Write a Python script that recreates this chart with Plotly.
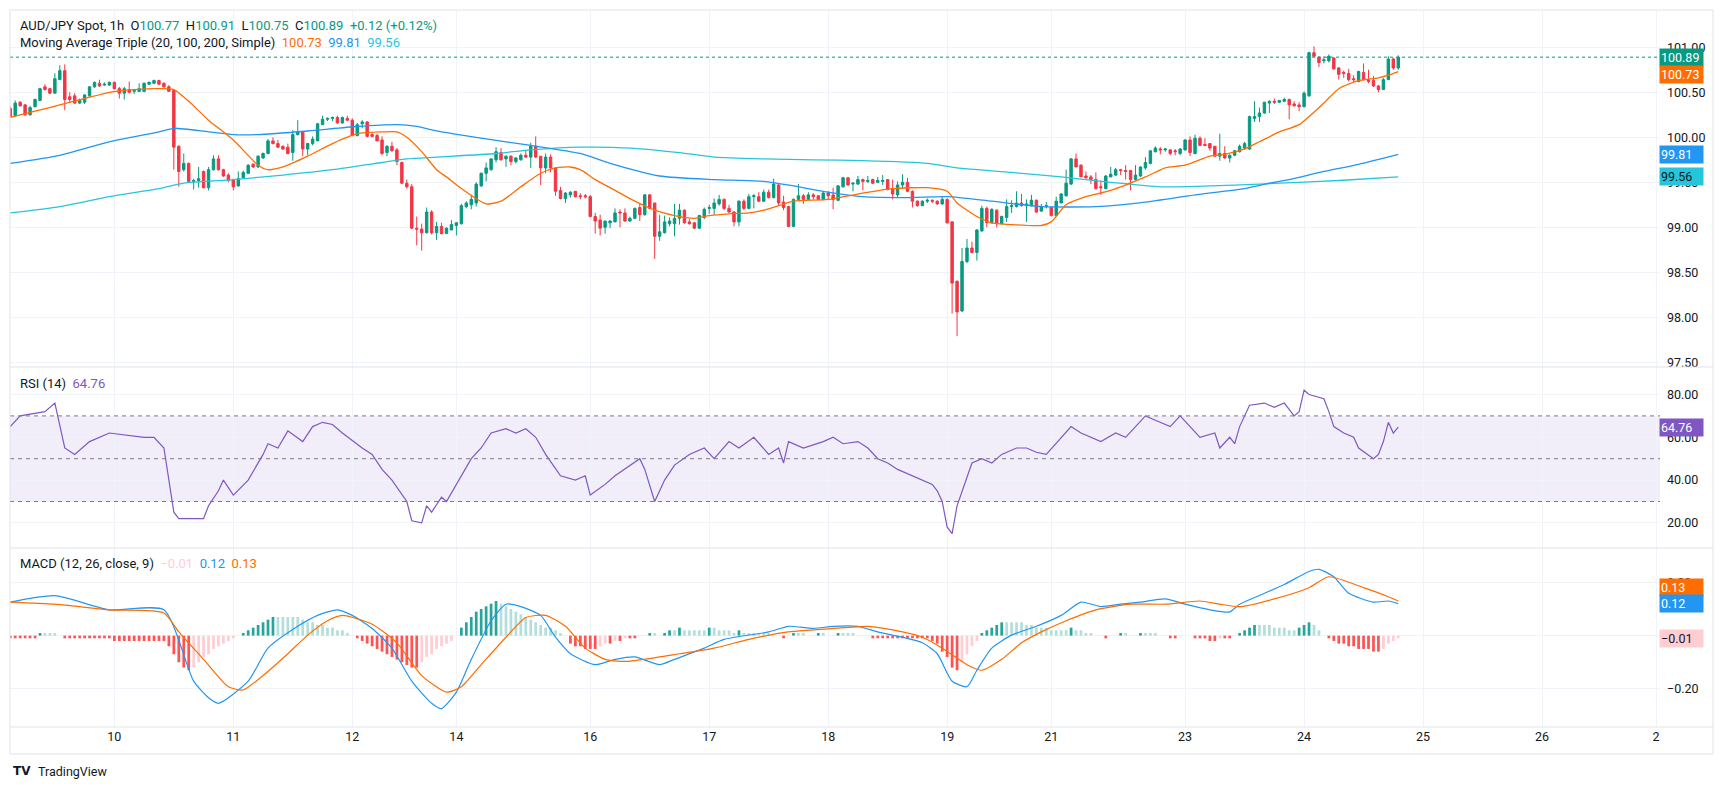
import plotly.graph_objects as go
from plotly.subplots import make_subplots

# The page body has an 8px margin, so the figure is sized to fit inside the 1723x789 window.
OFF = 8
W, H = 1723 - 2 * OFF, 789 - 2 * OFF
ML, MT = 10 - OFF, 10 - OFF
MR = W - (1660 - OFF)
MB = H - (727 - OFF)
PW, PH = W - ML - MR, H - MT - MB

def px(x):
    return (x - OFF - ML) / PW

def py(y):
    return (H - MB - (y - OFF)) / PH

# ---------------- data (hourly AUD/JPY bars, index = bar number) ----------------
OPEN = [
    100.32, 100.24, 100.39, 100.36, 100.25, 100.34, 100.41, 100.56, 100.54, 100.49,
    100.64, 100.74, 100.45, 100.46, 100.38, 100.39, 100.46, 100.56, 100.60, 100.58,
    100.58, 100.61, 100.54, 100.49, 100.53, 100.51, 100.51, 100.51, 100.59, 100.60,
    100.63, 100.60, 100.56, 100.52, 99.90, 99.64, 99.71, 99.51, 99.52, 99.62,
    99.44, 99.64, 99.76, 99.64, 99.58, 99.53, 99.46, 99.55, 99.60, 99.70,
    99.67, 99.77, 99.82, 99.96, 99.93, 99.90, 99.89, 99.83, 100.03, 100.06,
    99.87, 99.93, 99.96, 100.14, 100.20, 100.21, 100.22, 100.16, 100.21, 100.19,
    100.02, 100.15, 100.17, 100.03, 100.02, 99.97, 99.83, 99.90, 99.86, 99.72,
    99.49, 99.45, 98.99, 98.98, 98.94, 99.17, 98.94, 99.01, 98.93, 98.97,
    99.02, 99.04, 99.23, 99.25, 99.27, 99.46, 99.60, 99.64, 99.75, 99.83,
    99.76, 99.79, 99.73, 99.75, 99.80, 99.78, 99.90, 99.79, 99.66, 99.78,
    99.66, 99.41, 99.32, 99.36, 99.40, 99.35, 99.35, 99.34, 99.12, 99.08,
    99.00, 99.05, 99.06, 99.17, 99.16, 99.07, 99.10, 99.22, 99.14, 99.36,
    99.27, 98.90, 98.94, 99.04, 99.04, 99.10, 99.19, 99.06, 99.05, 98.99,
    99.11, 99.21, 99.21, 99.26, 99.31, 99.21, 99.17, 99.06, 99.29, 99.21,
    99.34, 99.34, 99.29, 99.39, 99.33, 99.47, 99.28, 99.23, 99.01, 99.31,
    99.35, 99.31, 99.36, 99.35, 99.31, 99.38, 99.36, 99.30, 99.45, 99.55,
    99.48, 99.48, 99.53, 99.51, 99.53, 99.50, 99.51, 99.53, 99.43, 99.36,
    99.47, 99.50, 99.40, 99.29, 99.24, 99.29, 99.30, 99.29, 99.26, 99.31,
    99.06, 98.40, 98.07, 98.62, 98.77, 98.72, 98.96, 99.21, 99.05, 99.19,
    99.04, 99.11, 99.23, 99.23, 99.27, 99.24, 99.24, 99.30, 99.18, 99.23,
    99.22, 99.13, 99.27, 99.35, 99.48, 99.76, 99.69, 99.57, 99.56, 99.53,
    99.45, 99.43, 99.56, 99.58, 99.64, 99.63, 99.63, 99.53, 99.57, 99.66,
    99.71, 99.84, 99.87, 99.86, 99.86, 99.85, 99.82, 99.86, 99.97, 99.82,
    99.99, 99.92, 99.93, 99.90, 99.79, 99.82, 99.77, 99.80, 99.84, 99.88,
    99.87, 100.21, 100.23, 100.27, 100.38, 100.40, 100.39, 100.40, 100.42, 100.37,
    100.36, 100.34, 100.46, 100.94, 100.89, 100.85, 100.85, 100.88, 100.77, 100.72,
    100.71, 100.65, 100.62, 100.72, 100.64, 100.63, 100.57, 100.53, 100.64, 100.87, 100.77,
]
HIGH = [
    100.34, 100.41, 100.40, 100.37, 100.35, 100.43, 100.55, 100.59, 100.55, 100.71,
    100.80, 100.81, 100.50, 100.49, 100.43, 100.48, 100.57, 100.62, 100.64, 100.61,
    100.62, 100.62, 100.56, 100.56, 100.62, 100.53, 100.60, 100.61, 100.62, 100.64,
    100.64, 100.61, 100.58, 100.53, 99.91, 99.82, 99.72, 99.54, 99.67, 99.63,
    99.67, 99.80, 99.80, 99.65, 99.60, 99.54, 99.62, 99.63, 99.70, 99.71,
    99.80, 99.83, 99.98, 100.00, 99.97, 99.91, 99.93, 100.08, 100.19, 100.06,
    99.94, 100.01, 100.16, 100.24, 100.22, 100.23, 100.24, 100.23, 100.24, 100.21,
    100.16, 100.19, 100.18, 100.06, 100.04, 100.01, 99.91, 99.95, 99.88, 99.73,
    99.53, 99.48, 99.12, 99.04, 99.22, 99.19, 99.06, 99.05, 99.00, 99.08,
    99.06, 99.26, 99.29, 99.36, 99.50, 99.61, 99.72, 99.77, 99.89, 99.88,
    99.80, 99.80, 99.78, 99.82, 99.85, 99.94, 100.01, 99.79, 99.82, 99.81,
    99.66, 99.45, 99.39, 99.40, 99.40, 99.38, 99.37, 99.36, 99.16, 99.14,
    99.07, 99.08, 99.21, 99.20, 99.21, 99.12, 99.22, 99.27, 99.37, 99.37,
    99.27, 99.14, 99.13, 99.11, 99.26, 99.26, 99.20, 99.09, 99.06, 99.14,
    99.22, 99.25, 99.32, 99.36, 99.32, 99.25, 99.18, 99.30, 99.31, 99.37,
    99.37, 99.39, 99.42, 99.42, 99.54, 99.48, 99.35, 99.24, 99.32, 99.48,
    99.37, 99.39, 99.38, 99.36, 99.40, 99.40, 99.44, 99.47, 99.56, 99.56,
    99.50, 99.57, 99.54, 99.57, 99.54, 99.56, 99.58, 99.53, 99.53, 99.51,
    99.59, 99.55, 99.41, 99.30, 99.30, 99.32, 99.31, 99.30, 99.34, 99.32,
    99.07, 98.41, 98.77, 98.87, 98.84, 98.98, 99.24, 99.23, 99.21, 99.20,
    99.13, 99.31, 99.30, 99.40, 99.37, 99.31, 99.36, 99.31, 99.26, 99.28,
    99.23, 99.34, 99.38, 99.64, 99.77, 99.82, 99.70, 99.62, 99.58, 99.61,
    99.52, 99.58, 99.67, 99.66, 99.65, 99.69, 99.64, 99.69, 99.68, 99.78,
    99.85, 99.90, 99.89, 99.88, 99.87, 99.87, 99.88, 99.98, 100.01, 100.03,
    100.01, 99.99, 99.93, 99.90, 100.04, 99.90, 99.81, 99.86, 99.92, 99.95,
    100.24, 100.40, 100.33, 100.39, 100.41, 100.43, 100.41, 100.44, 100.43, 100.40,
    100.39, 100.51, 100.95, 101.01, 100.90, 100.90, 100.92, 100.89, 100.78, 100.74,
    100.76, 100.69, 100.74, 100.82, 100.75, 100.68, 100.58, 100.66, 100.90, 100.88, 100.91,
]
LOW = [
    100.22, 100.23, 100.34, 100.24, 100.24, 100.33, 100.40, 100.52, 100.48, 100.49,
    100.64, 100.30, 100.38, 100.37, 100.37, 100.37, 100.45, 100.55, 100.56, 100.57,
    100.57, 100.53, 100.43, 100.42, 100.49, 100.48, 100.50, 100.50, 100.58, 100.59,
    100.58, 100.55, 100.51, 99.64, 99.45, 99.62, 99.50, 99.42, 99.44, 99.43,
    99.41, 99.63, 99.63, 99.56, 99.50, 99.41, 99.45, 99.54, 99.59, 99.66,
    99.66, 99.76, 99.81, 99.92, 99.88, 99.86, 99.81, 99.74, 100.02, 99.79,
    99.80, 99.91, 99.96, 100.14, 100.18, 100.18, 100.15, 100.15, 100.18, 100.01,
    100.01, 100.10, 100.00, 100.00, 99.96, 99.80, 99.79, 99.84, 99.69, 99.48,
    99.43, 98.98, 98.80, 98.74, 98.93, 98.92, 98.86, 98.92, 98.93, 98.97,
    98.91, 99.03, 99.21, 99.20, 99.23, 99.45, 99.51, 99.63, 99.72, 99.74,
    99.67, 99.69, 99.71, 99.74, 99.77, 99.66, 99.77, 99.47, 99.60, 99.61,
    99.35, 99.31, 99.27, 99.33, 99.33, 99.31, 99.32, 99.11, 98.93, 98.91,
    98.93, 98.99, 99.06, 99.00, 99.06, 99.06, 99.09, 99.07, 99.13, 99.20,
    98.65, 98.85, 98.93, 99.01, 98.90, 99.03, 99.04, 99.03, 98.98, 98.98,
    99.09, 99.15, 99.14, 99.24, 99.19, 99.16, 99.01, 99.01, 99.19, 99.20,
    99.21, 99.28, 99.28, 99.32, 99.32, 99.24, 99.19, 99.00, 99.00, 99.30,
    99.26, 99.30, 99.31, 99.30, 99.30, 99.31, 99.20, 99.29, 99.44, 99.46,
    99.40, 99.47, 99.41, 99.49, 99.48, 99.49, 99.47, 99.41, 99.31, 99.33,
    99.43, 99.39, 99.22, 99.23, 99.24, 99.27, 99.27, 99.25, 99.25, 99.04,
    98.04, 97.79, 98.06, 98.60, 98.71, 98.63, 98.95, 99.00, 99.04, 99.00,
    99.03, 99.06, 99.16, 99.22, 99.23, 99.06, 99.23, 99.16, 99.17, 99.21,
    99.12, 99.12, 99.27, 99.34, 99.47, 99.67, 99.56, 99.54, 99.48, 99.42,
    99.36, 99.42, 99.56, 99.57, 99.58, 99.53, 99.41, 99.52, 99.56, 99.64,
    99.70, 99.83, 99.81, 99.84, 99.80, 99.80, 99.80, 99.85, 99.79, 99.81,
    99.90, 99.90, 99.85, 99.79, 99.74, 99.76, 99.72, 99.79, 99.83, 99.86,
    99.86, 100.17, 100.17, 100.26, 100.27, 100.37, 100.38, 100.39, 100.20, 100.34,
    100.29, 100.33, 100.45, 100.89, 100.78, 100.82, 100.83, 100.75, 100.64, 100.66,
    100.62, 100.61, 100.61, 100.63, 100.60, 100.56, 100.50, 100.53, 100.64, 100.75, 100.75,
]
CLOSE = [
    100.23, 100.38, 100.35, 100.25, 100.33, 100.42, 100.54, 100.53, 100.49, 100.65,
    100.74, 100.42, 100.42, 100.38, 100.41, 100.47, 100.56, 100.61, 100.57, 100.59,
    100.61, 100.54, 100.49, 100.54, 100.50, 100.52, 100.54, 100.60, 100.61, 100.63,
    100.59, 100.56, 100.51, 99.89, 99.62, 99.71, 99.51, 99.52, 99.54, 99.44,
    99.64, 99.76, 99.64, 99.57, 99.52, 99.45, 99.54, 99.61, 99.69, 99.67,
    99.79, 99.82, 99.96, 99.93, 99.89, 99.87, 99.82, 100.03, 100.06, 99.87,
    99.93, 99.98, 100.15, 100.20, 100.21, 100.22, 100.16, 100.22, 100.19, 100.02,
    100.14, 100.17, 100.01, 100.01, 99.96, 99.82, 99.90, 99.85, 99.73, 99.49,
    99.45, 98.99, 98.98, 98.94, 99.17, 98.94, 99.01, 98.93, 98.99, 99.03,
    99.05, 99.24, 99.27, 99.31, 99.48, 99.60, 99.66, 99.76, 99.84, 99.75,
    99.79, 99.73, 99.77, 99.80, 99.78, 99.90, 99.78, 99.66, 99.78, 99.66,
    99.40, 99.32, 99.38, 99.39, 99.34, 99.34, 99.34, 99.12, 99.07, 98.99,
    99.07, 99.07, 99.16, 99.16, 99.07, 99.10, 99.21, 99.14, 99.36, 99.21,
    98.90, 98.95, 99.06, 99.07, 99.10, 99.19, 99.05, 99.04, 98.99, 99.13,
    99.20, 99.22, 99.27, 99.31, 99.21, 99.17, 99.06, 99.29, 99.21, 99.34,
    99.35, 99.29, 99.39, 99.33, 99.48, 99.27, 99.22, 99.01, 99.31, 99.35,
    99.31, 99.36, 99.34, 99.31, 99.38, 99.35, 99.31, 99.46, 99.55, 99.47,
    99.49, 99.53, 99.51, 99.52, 99.49, 99.52, 99.52, 99.42, 99.37, 99.47,
    99.50, 99.40, 99.29, 99.24, 99.29, 99.30, 99.29, 99.26, 99.31, 99.05,
    98.38, 98.06, 98.62, 98.77, 98.72, 98.97, 99.21, 99.05, 99.20, 99.04,
    99.12, 99.23, 99.24, 99.27, 99.24, 99.26, 99.30, 99.17, 99.23, 99.24,
    99.13, 99.29, 99.37, 99.49, 99.76, 99.67, 99.56, 99.55, 99.53, 99.43,
    99.44, 99.57, 99.59, 99.64, 99.63, 99.62, 99.53, 99.58, 99.67, 99.72,
    99.85, 99.88, 99.86, 99.87, 99.82, 99.84, 99.87, 99.97, 99.83, 99.99,
    99.91, 99.91, 99.88, 99.79, 99.82, 99.77, 99.80, 99.85, 99.90, 99.93,
    100.23, 100.23, 100.27, 100.39, 100.40, 100.39, 100.41, 100.42, 100.36, 100.35,
    100.34, 100.49, 100.94, 100.90, 100.83, 100.86, 100.90, 100.76, 100.70, 100.71,
    100.64, 100.64, 100.73, 100.64, 100.62, 100.57, 100.53, 100.64, 100.87, 100.77, 100.89,
]

# Moving averages (bar index, value)
MA20_IDX = [0, 5, 10, 15, 20, 25, 30, 33, 36, 40, 45, 50, 52, 55, 60, 65, 70, 75, 78, 80, 83, 86, 88, 91, 96,
            99, 103, 107, 110, 113, 115, 118, 122, 126, 130, 134, 138, 141, 145, 149, 152, 155, 158, 165,
            172, 178, 185, 189, 191, 195, 198, 202, 208, 210, 213, 217, 222, 229, 233, 237, 242, 245, 249,
            252, 256, 260, 265, 268, 272, 276, 278, 280]
MA20 = [100.22, 100.29, 100.36, 100.43, 100.50, 100.53, 100.54, 100.53, 100.40, 100.19, 99.97, 99.69, 99.64,
        99.67, 99.79, 99.93, 100.04, 100.06, 100.06, 100.00, 99.84, 99.64, 99.56, 99.43, 99.26, 99.29, 99.45,
        99.60, 99.66, 99.67, 99.64, 99.53, 99.41, 99.29, 99.19, 99.13, 99.10, 99.13, 99.15, 99.16, 99.19,
        99.24, 99.29, 99.31, 99.38, 99.43, 99.44, 99.40, 99.27, 99.12, 99.05, 99.03, 99.02, 99.06, 99.25,
        99.34, 99.41, 99.56, 99.66, 99.69, 99.79, 99.81, 99.87, 99.95, 100.06, 100.14, 100.38, 100.54,
        100.63, 100.66, 100.69, 100.73]
MA100_IDX = [0, 10, 20, 30, 33, 40, 45, 50, 60, 70, 78, 82, 86, 95, 105, 115, 121, 131, 142, 152, 159, 165,
             172, 181, 189, 198, 208, 219, 229, 239, 249, 254, 258, 265, 272, 280]
MA100 = [99.71, 99.80, 99.95, 100.06, 100.10, 100.06, 100.03, 100.03, 100.07, 100.12, 100.14, 100.12, 100.07,
         99.99, 99.91, 99.82, 99.71, 99.57, 99.53, 99.51, 99.45, 99.39, 99.34, 99.33, 99.34, 99.29, 99.23,
         99.23, 99.28, 99.36, 99.43, 99.49, 99.53, 99.62, 99.70, 99.81]
MA200_IDX = [0, 10, 20, 30, 35, 45, 55, 65, 75, 80, 86, 98, 105, 115, 125, 135, 142, 152, 162, 172, 185, 191,
             202, 212, 222, 232, 242, 252, 260, 268, 280]
MA200 = [99.16, 99.23, 99.34, 99.43, 99.49, 99.53, 99.58, 99.64, 99.72, 99.76, 99.78, 99.82, 99.86, 99.89,
         99.88, 99.83, 99.78, 99.76, 99.75, 99.74, 99.71, 99.66, 99.61, 99.56, 99.50, 99.45, 99.46, 99.48,
         99.50, 99.52, 99.56]

RSI_IDX = [0, 2, 7, 9, 11, 13, 16, 20, 27, 29, 31, 33, 34, 39, 40, 42, 43, 45, 48, 50, 51, 52, 54, 56, 59, 61,
           63, 65, 67, 71, 73, 75, 77, 80, 81, 83, 84, 85, 87, 88, 91, 93, 95, 97, 100, 102, 104, 106, 108, 111,
           114, 116, 117, 120, 122, 125, 127, 128, 130, 132, 134, 137, 140, 142, 145, 147, 150, 153, 155, 156,
           157, 160, 164, 166, 168, 171, 173, 175, 177, 179, 182, 184, 186, 187, 188, 189, 190, 191, 192, 194,
           196, 198, 200, 203, 205, 207, 209, 212, 214, 216, 218, 220, 223, 225, 227, 229, 231, 234, 236, 238,
           240, 243, 244, 246, 247, 248, 250, 253, 255, 257, 259, 260, 261, 262, 265, 266, 267, 269, 271, 272,
           275, 276, 277, 278, 279, 280]
RSI = [65, 70, 72, 76, 55, 52, 58, 62, 60, 60, 55, 25, 22, 22, 28, 35, 40, 33, 40, 48, 52, 57, 55, 63, 58, 65,
       67, 66, 62, 55, 52, 45, 40, 30, 21, 20, 28, 25, 32, 30, 42, 50, 55, 62, 64, 62, 64, 60, 52, 42,
       40, 42, 33, 38, 42, 47, 50, 45, 30, 40, 47, 52, 55, 50, 58, 55, 60, 52, 55, 48,
       58, 55, 58, 60, 57, 58, 55, 50, 48, 45, 42, 40, 38, 35, 30, 18, 15, 28, 35, 48,
       50, 48, 52, 55, 55, 53, 52, 60, 65, 62, 60, 58, 62, 60, 65, 70, 68, 65, 70, 65,
       60, 62, 55, 60, 57, 65, 75, 76, 74, 76, 70, 72, 82, 80, 78, 72, 65, 62, 60, 55,
       50, 52, 58, 67, 62, 64.76]

MACD_IDX = [0, 9, 20, 31, 37, 40, 42, 48, 52, 58, 62, 66, 69, 73, 77, 81, 85, 87, 90, 93, 97, 100, 103, 107,
            110, 113, 118, 122, 126, 131, 134, 140, 144, 153, 157, 162, 166, 171, 175, 180, 184, 187, 190, 193,
            195, 198, 202, 207, 212, 216, 220, 224, 228, 233, 237, 242, 246, 248, 253, 257, 262, 264, 267, 270,
            275, 278, 280]
MACD = [0.126, 0.15, 0.097, 0.097, -0.171, -0.233, -0.254, -0.171, -0.047, 0.035, 0.076, 0.097, 0.076, 0.027,
        -0.047, -0.171, -0.254, -0.274, -0.212, -0.089, 0.056, 0.118, 0.109, 0.076, -0.006, -0.068, -0.109,
        -0.089, -0.08, -0.109, -0.089, -0.047, -0.014, 0.014, 0.035, 0.027, 0.035, 0.035, 0.014, -0.006,
        -0.027, -0.068, -0.171, -0.192, -0.13, -0.047, 0.002, 0.035, 0.076, 0.126, 0.109, 0.118, 0.126, 0.138,
        0.118, 0.097, 0.089, 0.118, 0.159, 0.192, 0.241, 0.249, 0.221, 0.159, 0.126, 0.13, 0.12]
SIG_IDX = [0, 9, 20, 31, 34, 39, 44, 47, 51, 56, 60, 64, 67, 73, 78, 83, 88, 91, 95, 100, 104, 108, 112, 116,
           120, 124, 131, 135, 142, 149, 157, 166, 173, 180, 184, 188, 193, 196, 200, 204, 208, 213, 219, 226,
           233, 240, 244, 248, 255, 262, 266, 273, 278, 280]
SIGNAL = [0.126, 0.118, 0.097, 0.085, 0.014, -0.089, -0.192, -0.204, -0.15, -0.068, 0.002, 0.056, 0.076, 0.043,
          -0.027, -0.15, -0.212, -0.192, -0.109, -0.006, 0.068, 0.076, 0.035, -0.047, -0.089, -0.097, -0.08,
          -0.068, -0.047, -0.014, 0.014, 0.027, 0.035, 0.014, -0.006, -0.047, -0.109, -0.13, -0.089, -0.027,
          0.014, 0.056, 0.097, 0.118, 0.118, 0.13, 0.118, 0.109, 0.138, 0.18, 0.221, 0.18, 0.146, 0.13]
HIST = [
    -0.01, -0.01, -0.01, -0.01, -0.01, -0.01, 0.01, 0.01, 0.01, 0.01,
    0.00, -0.01, -0.01, -0.01, -0.01, -0.01, -0.01, -0.01, -0.01, -0.01,
    -0.01, -0.02, -0.02, -0.02, -0.02, -0.02, -0.02, -0.02, -0.02, -0.02,
    -0.02, -0.02, -0.04, -0.07, -0.10, -0.12, -0.13, -0.12, -0.10, -0.08,
    -0.07, -0.05, -0.04, -0.03, -0.02, -0.01, 0.00, 0.01, 0.02, 0.03,
    0.04, 0.05, 0.06, 0.07, 0.07, 0.07, 0.07, 0.07, 0.07, 0.06,
    0.05, 0.05, 0.04, 0.04, 0.03, 0.03, 0.02, 0.02, 0.01, 0.00,
    -0.01, -0.02, -0.03, -0.04, -0.05, -0.06, -0.07, -0.08, -0.09, -0.10,
    -0.11, -0.12, -0.12, -0.10, -0.08, -0.07, -0.05, -0.04, -0.03, -0.02,
    0.00, 0.03, 0.05, 0.07, 0.09, 0.10, 0.11, 0.12, 0.13, 0.12,
    0.11, 0.10, 0.09, 0.08, 0.07, 0.06, 0.05, 0.04, 0.03, 0.03,
    0.02, 0.01, 0.00, -0.03, -0.04, -0.04, -0.05, -0.05, -0.05, -0.04,
    -0.03, -0.03, -0.02, -0.02, -0.01, -0.01, -0.01, 0.00, 0.00, 0.01,
    0.01, 0.00, 0.01, 0.02, 0.02, 0.03, 0.02, 0.02, 0.02, 0.02,
    0.02, 0.03, 0.03, 0.02, 0.02, 0.02, 0.01, 0.02, 0.01, 0.01,
    0.01, 0.01, 0.01, 0.01, 0.00, 0.00, -0.01, 0.00, 0.01, 0.01,
    0.01, 0.00, 0.00, 0.01, 0.01, 0.00, 0.00, 0.01, 0.01, 0.01,
    0.01, 0.00, 0.00, 0.00, -0.01, -0.01, -0.01, -0.01, -0.01, -0.01,
    -0.01, -0.01, -0.01, -0.01, -0.01, -0.01, -0.02, -0.03, -0.06, -0.08,
    -0.12, -0.13, -0.10, -0.07, -0.04, -0.02, 0.01, 0.02, 0.03, 0.04,
    0.05, 0.05, 0.05, 0.05, 0.05, 0.04, 0.04, 0.03, 0.03, 0.03,
    0.02, 0.02, 0.02, 0.02, 0.03, 0.02, 0.02, 0.01, 0.01, 0.00,
    0.00, -0.01, 0.00, 0.00, 0.01, 0.01, 0.00, 0.00, 0.01, 0.01,
    0.01, 0.01, 0.00, 0.00, -0.01, -0.01, 0.00, 0.00, 0.00, -0.01,
    -0.01, -0.01, -0.02, -0.02, -0.01, -0.01, -0.01, 0.00, 0.01, 0.02,
    0.03, 0.04, 0.04, 0.04, 0.04, 0.03, 0.03, 0.03, 0.02, 0.02,
    0.03, 0.04, 0.05, 0.04, 0.02, 0.00, -0.01, -0.02, -0.03, -0.03,
    -0.04, -0.04, -0.05, -0.05, -0.05, -0.06, -0.06, -0.05, -0.03, -0.02, -0.01,
]

TICK_IDX = [21, 45, 69, 90, 117, 141, 165, 189, 210, 237, 261, 285, 309, 332]
TICK_TXT = ['10', '11', '12', '14', '16', '17', '18', '19', '21', '23', '24', '25', '26', '2']
PRICE_TICKS = [97.5, 98.0, 98.5, 99.0, 99.5, 100.0, 100.5, 101.0]
RSI_TICKS = [20, 40, 60, 80]
MACD_TICKS = [-0.2, 0.0, 0.2]
RSI_BANDS = (30, 50, 70)

X = list(range(len(CLOSE)))

UP, DN = '#089981', '#F23645'
C_MA20, C_MA100, C_MA200 = '#FF6D00', '#2196F3', '#26C6DA'
C_RSI = '#7E57C2'
TXT = '#131722'
GRID = '#f0f3fa'
BORDER = '#e0e3eb'
FONT = 'Roboto'

def fmt(v, d=2):
    s = f"{v:.{d}f}"
    return s.replace('-', '\u2212')

# histogram colours (TradingView MACD scheme)
hist_colors = []
for i, h in enumerate(HIST):
    prev = HIST[i - 1] if i > 0 else h
    if h >= 0:
        hist_colors.append('#26A69A' if prev < h else '#B2DFDB')
    else:
        hist_colors.append('#FFCDD2' if prev < h else '#FF5252')

fig = make_subplots(rows=3, cols=1, shared_xaxes=True, vertical_spacing=0,
                    row_heights=[357, 181, 179])

fig.add_trace(go.Candlestick(
    x=X, open=OPEN, high=HIGH, low=LOW, close=CLOSE,
    increasing=dict(line=dict(color=UP, width=1), fillcolor=UP),
    decreasing=dict(line=dict(color=DN, width=1), fillcolor=DN),
    whiskerwidth=0, hoverinfo='skip'), row=1, col=1)

for idx, vals, col in [(MA200_IDX, MA200, C_MA200), (MA100_IDX, MA100, C_MA100), (MA20_IDX, MA20, C_MA20)]:
    fig.add_trace(go.Scatter(x=idx, y=vals, mode='lines', line=dict(color=col, width=1.3, shape='spline',
                                                                    smoothing=0.6),
                             hoverinfo='skip'), row=1, col=1)

fig.add_trace(go.Scatter(x=RSI_IDX, y=RSI, mode='lines', line=dict(color=C_RSI, width=1.2),
                         hoverinfo='skip'), row=2, col=1)

fig.add_trace(go.Bar(x=X, y=HIST, marker=dict(color=hist_colors, line=dict(width=0)), width=0.55,
                     hoverinfo='skip'), row=3, col=1)
fig.add_trace(go.Scatter(x=MACD_IDX, y=MACD, mode='lines', line=dict(color=C_MA100, width=1.2, shape='spline',
                                                                   smoothing=0.6), hoverinfo='skip'),
              row=3, col=1)
fig.add_trace(go.Scatter(x=SIG_IDX, y=SIGNAL, mode='lines', line=dict(color=C_MA20, width=1.2, shape='spline',
                                                                    smoothing=0.6), hoverinfo='skip'),
              row=3, col=1)

xr = [-0.05, 332.8]
axfont = dict(family=FONT, size=12.5, color=TXT)
for k in (1, 2, 3):
    fig.update_xaxes(row=k, col=1, range=xr, tickvals=TICK_IDX, ticktext=TICK_TXT, showgrid=True,
                     gridcolor=GRID, gridwidth=1, zeroline=False, showline=False, ticks='',
                     showticklabels=(k == 3), tickfont=axfont, rangeslider=dict(visible=False),
                     fixedrange=True)

fig.update_yaxes(row=1, col=1, range=[97.448, 101.414], tickvals=PRICE_TICKS,
                 ticktext=[fmt(v) for v in PRICE_TICKS])
fig.update_yaxes(row=2, col=1, range=[8.27, 92.85], tickvals=RSI_TICKS, ticktext=[fmt(v) for v in RSI_TICKS])
fig.update_yaxes(row=3, col=1, range=[-0.343, 0.329], tickvals=MACD_TICKS,
                 ticktext=[fmt(v) for v in MACD_TICKS])
fig.update_yaxes(side='right', showgrid=True, gridcolor=GRID, zeroline=False, showline=False, ticks='',
                 tickfont=axfont, fixedrange=True, ticklabelstandoff=6)

fig.update_layout(
    width=W, height=H, autosize=False,
    margin=dict(l=ML, r=MR, t=MT, b=MB, autoexpand=False),
    paper_bgcolor='white', plot_bgcolor='white',
    showlegend=False, hovermode=False,
    yaxis=dict(domain=[py(367), 1.0]),
    yaxis2=dict(domain=[py(548), py(367)]),
    yaxis3=dict(domain=[0.0, py(548)]),
    font=dict(family=FONT, size=13, color=TXT),
)

shapes = []
# RSI band and levels
shapes.append(dict(type='rect', xref='x2 domain', yref='y2', x0=0, x1=1, y0=RSI_BANDS[0], y1=RSI_BANDS[2],
                   fillcolor='rgba(126,87,194,0.1)', line=dict(width=0), layer='below'))
for lv in RSI_BANDS:
    shapes.append(dict(type='line', xref='x2 domain', yref='y2', x0=0, x1=1, y0=lv, y1=lv,
                       line=dict(color='#787B86', width=1, dash='4px,4px')))
# last price line
shapes.append(dict(type='line', xref='x domain', yref='y', x0=0, x1=1, y0=CLOSE[-1], y1=CLOSE[-1],
                   line=dict(color=UP, width=1, dash='dot')))
# pane separators and outer frame
for yy in (10, 367, 548, 727, 754):
    shapes.append(dict(type='line', xref='paper', yref='paper', x0=px(10), x1=px(1713), y0=py(yy), y1=py(yy),
                       line=dict(color=BORDER, width=1)))
for xx in (10, 1713):
    shapes.append(dict(type='line', xref='paper', yref='paper', x0=px(xx), x1=px(xx), y0=py(10), y1=py(754),
                       line=dict(color=BORDER, width=1)))
fig.update_layout(shapes=shapes)

ann = []
def txt(x, y, s, size=13):
    ann.append(dict(xref='paper', yref='paper', x=px(x), y=py(y), xanchor='left', yanchor='middle',
                    text=s, showarrow=False, font=dict(family=FONT, size=size, color=TXT)))

def span(c, s):
    return f'<span style="color:{c}">{s}</span>'

NB = '\u00a0'
chg = CLOSE[-1] - CLOSE[-2]
pct = chg / CLOSE[-2] * 100
hdr = (f'AUD/JPY Spot, 1h{NB}{NB}O{span(UP, fmt(OPEN[-1]))}{NB}{NB}H{span(UP, fmt(HIGH[-1]))}{NB}{NB}'
       f'L{span(UP, fmt(LOW[-1]))}{NB}{NB}C{span(UP, fmt(CLOSE[-1]))}{NB}{NB}'
       f'{span(UP, f"+{chg:.2f} (+{pct:.2f}%)")}')
txt(18, 25, hdr)
txt(18, 42, f'Moving Average Triple (20, 100, 200, Simple){NB}{NB}{span(C_MA20, fmt(MA20[-1]))}{NB}{NB}'
            f'{span(C_MA100, fmt(MA100[-1]))}{NB}{NB}{span(C_MA200, fmt(MA200[-1]))}')
txt(18, 383, f'RSI (14){NB}{NB}{span(C_RSI, fmt(RSI[-1]))}')
txt(18, 563, f'MACD (12, 26, close, 9){NB}{NB}{span("#FFCDD2", fmt(HIST[-1]))}{NB}{NB}'
             f'{span(C_MA100, fmt(MACD[-1]))}{NB}{NB}{span(C_MA20, fmt(SIGNAL[-1]))}')

# footer logo
ann.append(dict(xref='paper', yref='paper', x=px(11), y=py(771), xanchor='left', yanchor='middle',
                text='<b>TV</b>', showarrow=False, font=dict(family='DejaVu Sans', size=12, color=TXT)))
txt(36, 771, 'TradingView', size=12.5)

def box(yref, val, s, bg, fg, yshift=0):
    ann.append(dict(xref='paper', yref=yref, x=px(1659), y=val, xanchor='left', yanchor='middle',
                    text=s, showarrow=False, bgcolor=bg, borderpad=1, width=41, align='left',
                    yshift=yshift, font=dict(family=FONT, size=12.5, color=fg)))

box('y', CLOSE[-1], fmt(CLOSE[-1]), UP, 'white')
box('y', MA20[-1], fmt(MA20[-1]), C_MA20, 'white', yshift=-3)
box('y', MA100[-1], fmt(MA100[-1]), C_MA100, 'white')
box('y', MA200[-1], fmt(MA200[-1]), C_MA200, TXT)
box('y2', RSI[-1], fmt(RSI[-1]), C_RSI, 'white')
box('y3', SIGNAL[-1], fmt(SIGNAL[-1]), C_MA20, 'white', yshift=14)
box('y3', MACD[-1], fmt(MACD[-1]), C_MA100, 'white')
box('y3', HIST[-1], fmt(HIST[-1]), '#FFCDD2', TXT)

fig.update_layout(annotations=ann)
fig.write_html('out.html')
